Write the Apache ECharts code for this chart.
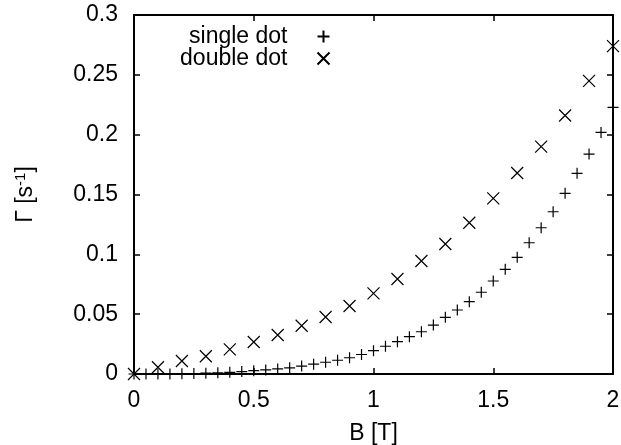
<!DOCTYPE html>
<html>
<head>
<meta charset="utf-8">
<script src="https://cdn.jsdelivr.net/npm/echarts@6/dist/echarts.min.js"></script>
<style>
html, body { margin: 0; padding: 0; background: #fff; }
#chart { width: 621px; height: 445px; }
</style>
</head>
<body>
<div id="chart"></div>
<script>
var singleB = [0, 0.05, 0.1, 0.15, 0.2, 0.25, 0.3, 0.35, 0.4, 0.45, 0.5, 0.55, 0.6, 0.65, 0.7, 0.75, 0.8, 0.85, 0.9, 0.95, 1,
    1.05, 1.1, 1.15, 1.2, 1.25, 1.3, 1.35, 1.4, 1.45, 1.5, 1.55, 1.6, 1.65, 1.7, 1.75, 1.8, 1.85, 1.9, 1.95, 2];
var singleRate = [0, 0, 0, 0.0001, 0.0002, 0.0004, 0.0007, 0.001, 0.0014, 0.002, 0.0028, 0.0034, 0.0042, 0.0052, 0.0066, 0.0082, 0.0098, 0.0115, 0.0136, 0.0163, 0.0195,
    0.0232, 0.027, 0.0312, 0.0353, 0.0409, 0.0474, 0.0535, 0.0604, 0.0683, 0.0777, 0.0875, 0.0975, 0.1097, 0.1222, 0.1356, 0.151, 0.1677, 0.1838, 0.2019, 0.2228];
var doubleB = [0, 0.1, 0.2, 0.3, 0.4, 0.5, 0.6, 0.7, 0.8, 0.9, 1, 1.1, 1.2, 1.3, 1.4, 1.5, 1.6, 1.7, 1.8, 1.9, 2];
var doubleRate = [0, 0.0056, 0.0109, 0.0148, 0.0206, 0.0267, 0.0326, 0.0403, 0.0476, 0.0568, 0.0674,
    0.0794, 0.0944, 0.1086, 0.1264, 0.1468, 0.168, 0.19, 0.216, 0.245, 0.274];

var font = "'Liberation Sans', Arial, sans-serif";
var fs = 23;
var plusPath = 'path://M0,5L10,5M5,0L5,10';
var crossPath = 'path://M0,0L10,10M10,0L0,10';

function pairs(xs, ys) {
    var out = [];
    for (var i = 0; i < xs.length; i++) out.push([xs[i], ys[i]]);
    return out;
}

var chart = echarts.init(document.getElementById('chart'));

var axisLine = { show: true, onZero: false, lineStyle: { color: '#000', width: 2 } };
var tickStyle = { show: true, inside: true, length: 6, lineStyle: { color: '#000', width: 1.5 } };

var option = {
    backgroundColor: '#fff',
    animation: false,
    textStyle: { fontFamily: font },
    grid: { left: 134, right: 8, top: 15, bottom: 71, outerBoundsMode: 'none' },
    legend: [
        {
            data: ['single dot'], right: 284, top: 20, align: 'right',
            itemWidth: 12, itemHeight: 12,
            textStyle: { fontSize: fs, color: '#000', fontFamily: font, padding: [0, 25, 0, 0] }
        },
        {
            data: ['double dot'], right: 284, top: 42, align: 'right',
            itemWidth: 12, itemHeight: 12,
            textStyle: { fontSize: fs, color: '#000', fontFamily: font, padding: [0, 25, 0, 0] }
        }
    ],
    xAxis: [
        {
            type: 'value', position: 'bottom', min: 0, max: 2, interval: 0.5,
            name: 'B [T]', nameLocation: 'middle', nameGap: 48,
            nameTextStyle: { fontSize: fs, color: '#000', fontFamily: font },
            axisLine: axisLine,
            axisTick: tickStyle,
            splitLine: { show: false },
            axisLabel: { fontSize: fs, color: '#000', margin: 15, fontFamily: font }
        },
        {
            type: 'value', position: 'top', min: 0, max: 2, interval: 0.5,
            axisLine: axisLine,
            axisTick: tickStyle,
            splitLine: { show: false },
            axisLabel: { show: false }
        }
    ],
    yAxis: [
        {
            type: 'value', position: 'left', min: 0, max: 0.3, interval: 0.05,
            name: 'Γ [s{sup|-1}]', nameLocation: 'middle', nameGap: 96,
            nameTextStyle: {
                fontSize: fs, color: '#000', fontFamily: font,
                rich: { sup: { fontSize: 15, color: '#000', fontFamily: font, padding: [0, 0, 10, 0] } }
            },
            axisLine: axisLine,
            axisTick: tickStyle,
            splitLine: { show: false },
            axisLabel: { fontSize: fs, color: '#000', margin: 16, fontFamily: font }
        },
        {
            type: 'value', position: 'right', min: 0, max: 0.3, interval: 0.05,
            axisLine: axisLine,
            axisTick: tickStyle,
            splitLine: { show: false },
            axisLabel: { show: false }
        }
    ],
    series: [
        {
            name: 'single dot', type: 'scatter', xAxisIndex: 0, yAxisIndex: 0,
            symbol: plusPath, symbolSize: 11, clip: false,
            itemStyle: { color: 'none', borderColor: '#000', borderWidth: 1.2, opacity: 1 },
            data: pairs(singleB, singleRate)
        },
        {
            name: 'double dot', type: 'scatter', xAxisIndex: 0, yAxisIndex: 0,
            symbol: crossPath, symbolSize: 12, clip: false,
            itemStyle: { color: 'none', borderColor: '#000', borderWidth: 1.2, opacity: 1 },
            data: pairs(doubleB, doubleRate)
        }
    ]
};

chart.setOption(option);
</script>
</body>
</html>
